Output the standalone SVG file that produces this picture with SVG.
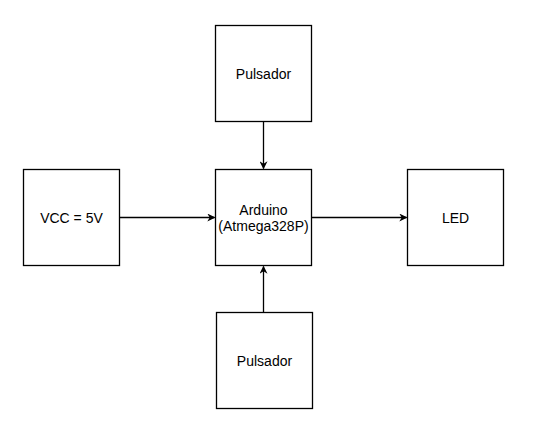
<svg xmlns="http://www.w3.org/2000/svg" width="541" height="436" viewBox="0 0 541 436">
<defs>
<style>
.box{fill:#fff;stroke:#000;stroke-width:1.3}
.lbl{font-family:"Liberation Sans",Arial,sans-serif;font-size:14px;fill:#000;text-anchor:middle}
.edge{stroke:#000;stroke-width:1.3;fill:none}
</style>
<marker id="arr" viewBox="0 0 10 10" refX="9" refY="5" markerWidth="8" markerHeight="8" markerUnits="userSpaceOnUse" orient="auto">
<path d="M0,0 L10,5 L0,10 L3,5 Z" fill="#000"/>
</marker>
</defs>
<rect width="541" height="436" fill="#fff"/>
<g id="pulsador-top"><rect class="box" x="215.5" y="25.5" width="96" height="96"/><text class="lbl" x="263.5" y="79">Pulsador</text></g>
<g id="vcc"><rect class="box" x="23.5" y="169.5" width="96" height="96"/><text class="lbl" x="71.5" y="223">VCC = 5V</text></g>
<g id="arduino"><rect class="box" x="215.5" y="169.5" width="96" height="96"/><text class="lbl" x="263.5" y="215">Arduino</text><text class="lbl" x="263.5" y="231">(Atmega328P)</text></g>
<g id="led"><rect class="box" x="407.5" y="169.5" width="96" height="96"/><text class="lbl" x="455.5" y="223">LED</text></g>
<g id="pulsador-bottom"><rect class="box" x="216.5" y="312.5" width="96" height="96"/><text class="lbl" x="264.5" y="366">Pulsador</text></g>
<g id="connectors">
<path class="edge" d="M263.5,121.5 V168.5" marker-end="url(#arr)"/>
<path class="edge" d="M119.5,217.5 H214.5" marker-end="url(#arr)"/>
<path class="edge" d="M311.5,217.5 H406.5" marker-end="url(#arr)"/>
<path class="edge" d="M263.5,312.5 V266.5" marker-end="url(#arr)"/>
</g>
</svg>
